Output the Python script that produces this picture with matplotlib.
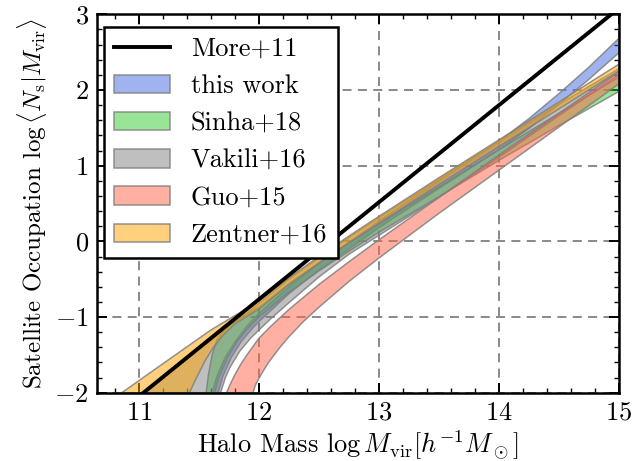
import matplotlib
matplotlib.use("Agg")
import matplotlib.pyplot as plt
from matplotlib.colors import to_rgba
from matplotlib.ticker import MultipleLocator

plt.rcParams["font.family"] = "serif"
plt.rcParams["font.serif"] = ["cmr10"]
plt.rcParams["mathtext.fontset"] = "cm"
plt.rcParams["axes.formatter.use_mathtext"] = True
plt.rcParams["axes.unicode_minus"] = True

# More+11: power law
more_x = [10.6, 15.0]
more_y = [-2.56, 3.08]

# each band: upper edge (x, y) and lower edge (x, y), log Ns vs log Mvir
this_up_x = [11.61, 11.65, 11.72, 11.8, 11.9, 12.0, 12.25, 12.5, 12.75, 13.0, 13.5, 14.0, 14.25, 14.5, 14.75, 15.0]
this_up_y = [-2.0, -1.78, -1.53, -1.33, -1.12, -0.95, -0.60, -0.29, -0.01, 0.27, 0.80, 1.32, 1.62, 1.95, 2.30, 2.68]
this_lo_x = [11.66, 11.70, 11.77, 11.85, 11.95, 12.0, 12.25, 12.5, 12.75, 13.0, 13.5, 14.0, 14.25, 14.5, 14.75, 15.0]
this_lo_y = [-2.0, -1.78, -1.53, -1.33, -1.14, -1.06, -0.69, -0.38, -0.10, 0.18, 0.70, 1.21, 1.49, 1.81, 2.14, 2.49]

sinha_up_x = [11.56, 11.58, 11.61, 11.65, 11.72, 11.82, 11.92, 12.0, 12.25, 12.5, 12.75, 13.0, 13.5, 14.0, 14.5, 15.0]
sinha_up_y = [-2.0, -1.75, -1.50, -1.30, -1.15, -1.02, -0.94, -0.87, -0.56, -0.28, -0.02, 0.23, 0.72, 1.21, 1.69, 2.17]
sinha_lo_x = [11.63, 11.67, 11.74, 11.82, 11.9, 12.0, 12.25, 12.5, 12.75, 13.0, 13.5, 14.0, 14.5, 15.0]
sinha_lo_y = [-2.0, -1.78, -1.53, -1.32, -1.16, -1.0, -0.67, -0.39, -0.13, 0.12, 0.59, 1.07, 1.53, 1.98]

vakili_up_x = [11.05, 11.5, 11.75, 11.9, 12.0, 12.25, 12.5, 12.75, 13.0, 13.5, 14.0, 14.5, 15.0]
vakili_up_y = [-2.0, -1.43, -1.12, -0.95, -0.82, -0.50, -0.22, 0.05, 0.31, 0.82, 1.32, 1.81, 2.28]
vakili_lo_x = [11.68, 11.72, 11.76, 11.84, 11.93, 12.0, 12.1, 12.25, 12.5, 12.75, 13.0, 13.5, 14.0, 14.5, 15.0]
vakili_lo_y = [-2.0, -1.80, -1.66, -1.45, -1.28, -1.17, -1.02, -0.81, -0.47, -0.17, 0.08, 0.58, 1.11, 1.66, 2.20]

guo_up_x = [11.73, 11.76, 11.8, 11.85, 11.9, 12.0, 12.1, 12.25, 12.5, 12.75, 13.0, 13.5, 14.0, 14.5, 15.0]
guo_up_y = [-2.0, -1.89, -1.76, -1.62, -1.50, -1.28, -1.12, -0.90, -0.57, -0.27, 0.02, 0.58, 1.14, 1.69, 2.24]
guo_lo_x = [11.95, 11.97, 12.0, 12.04, 12.08, 12.17, 12.25, 12.37, 12.5, 12.75, 13.0, 13.5, 14.0, 14.5, 15.0]
guo_lo_y = [-2.0, -1.90, -1.81, -1.70, -1.60, -1.41, -1.26, -1.06, -0.87, -0.53, -0.22, 0.37, 0.94, 1.51, 2.08]

zentner_up_x = [10.856, 11.25, 11.6, 11.8, 12.0, 12.25, 12.5, 12.75, 13.0, 13.5, 14.0, 14.5, 15.0]
zentner_up_y = [-2.0, -1.56, -1.17, -0.98, -0.79, -0.48, -0.20, 0.07, 0.33, 0.84, 1.34, 1.84, 2.34]
zentner_lo_x = [11.42, 11.48, 11.55, 11.62, 11.7, 11.8, 11.9, 12.0, 12.25, 12.5, 12.75, 13.0, 13.5, 14.0, 14.5, 15.0]
zentner_lo_y = [-2.0, -1.80, -1.58, -1.40, -1.24, -1.09, -0.99, -0.895, -0.57, -0.29, -0.02, 0.24, 0.75, 1.25, 1.75, 2.25]

bands = [
    ("this work", "royalblue", this_up_x, this_up_y, this_lo_x, this_lo_y),
    ("Sinha+18", "limegreen", sinha_up_x, sinha_up_y, sinha_lo_x, sinha_lo_y),
    ("Vakili+16", "gray", vakili_up_x, vakili_up_y, vakili_lo_x, vakili_lo_y),
    ("Guo+15", "tomato", guo_up_x, guo_up_y, guo_lo_x, guo_lo_y),
    ("Zentner+16", "orange", zentner_up_x, zentner_up_y, zentner_lo_x, zentner_lo_y),
]

fig = plt.figure(figsize=(6.34, 4.61), dpi=100)
ax = fig.add_axes([0.153, 0.148, 0.823, 0.821])

ax.plot(more_x, more_y, color="k", lw=2.8, label="More+11", zorder=3)
for label, color, ux, uy, lx, ly in bands:
    px = list(ux) + list(lx)[::-1]
    py = list(uy) + list(ly)[::-1]
    ax.fill(px, py, facecolor=to_rgba(color, 0.5), edgecolor=to_rgba("gray", 0.85),
            lw=1.1, label=label)

ax.set_xlim(10.65, 15)
ax.set_ylim(-2, 3)
ax.xaxis.set_major_locator(MultipleLocator(1))
ax.xaxis.set_minor_locator(MultipleLocator(0.2))
ax.yaxis.set_major_locator(MultipleLocator(1))
ax.yaxis.set_minor_locator(MultipleLocator(0.2))
ax.tick_params(which="both", direction="in", top=True, right=True, labelsize=19)
ax.tick_params(which="major", length=7, width=1.4, pad=6)
ax.tick_params(which="minor", length=3.5, width=1.0)
for sp in ax.spines.values():
    sp.set_linewidth(1.8)
ax.grid(True, which="major", ls="--", color="gray", lw=1.3, dashes=(5, 3.5))
ax.set_axisbelow(True)

ax.set_xlabel(r"Halo Mass $\log M_{\rm vir} [h^{-1}M_\odot]$", fontsize=19, labelpad=3)
ax.set_ylabel(r"Satellite Occupation $\log\langle N_{\rm s}|M_{\rm vir}\rangle$", fontsize=18, labelpad=4)

leg = ax.legend(loc="upper left", bbox_to_anchor=(0.013, 0.967), borderaxespad=0,
                fontsize=19, frameon=True, fancybox=False, framealpha=1.0,
                edgecolor="k", handlelength=2.1, handleheight=0.7,
                labelspacing=0.51, borderpad=0.4, handletextpad=0.8)
leg.get_frame().set_linewidth(1.8)

fig.savefig("out.png", dpi=100)
